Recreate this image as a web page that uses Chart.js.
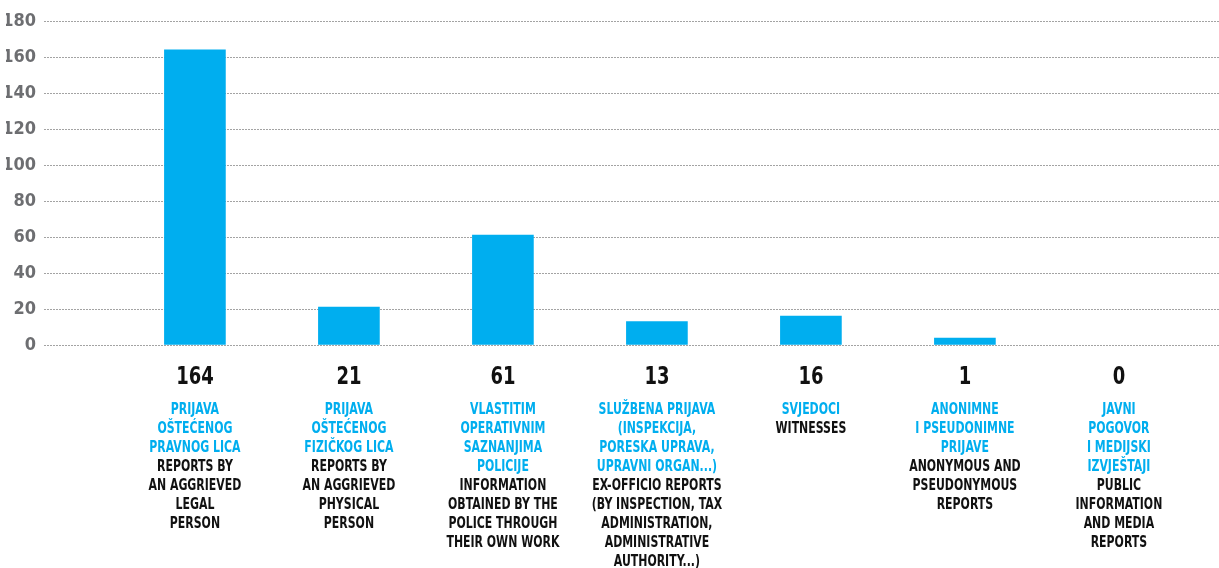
<!DOCTYPE html>
<html>
<head>
<meta charset="utf-8">
<script src="https://cdn.jsdelivr.net/npm/chart.js@4"></script>
<style>
  html, body { margin: 0; padding: 0; background: #fff; }
  #wrap { width: 1219px; height: 568px; position: relative; }
</style>
</head>
<body>
<div id="wrap"><canvas id="reportsChart" width="1219" height="568"></canvas></div>
<script>
// number of reports by source
const values = [164, 21, 61, 13, 16, 1, 0];

const localNames = [
  ['PRIJAVA', 'OŠTEĆENOG', 'PRAVNOG LICA'],
  ['PRIJAVA', 'OŠTEĆENOG', 'FIZIČKOG LICA'],
  ['VLASTITIM', 'OPERATIVNIM', 'SAZNANJIMA', 'POLICIJE'],
  ['SLUŽBENA PRIJAVA', '(INSPEKCIJA,', 'PORESKA UPRAVA,', 'UPRAVNI ORGAN...)'],
  ['SVJEDOCI'],
  ['ANONIMNE', 'I PSEUDONIMNE', 'PRIJAVE'],
  ['JAVNI', 'POGOVOR', 'I MEDIJSKI', 'IZVJEŠTAJI']
];

const englishNames = [
  ['REPORTS BY', 'AN AGGRIEVED', 'LEGAL', 'PERSON'],
  ['REPORTS BY', 'AN AGGRIEVED', 'PHYSICAL', 'PERSON'],
  ['INFORMATION', 'OBTAINED BY THE', 'POLICE THROUGH', 'THEIR OWN WORK'],
  ['EX-OFFICIO REPORTS', '(BY INSPECTION, TAX', 'ADMINISTRATION,', 'ADMINISTRATIVE', 'AUTHORITY...)'],
  ['WITNESSES'],
  ['ANONYMOUS AND', 'PSEUDONYMOUS', 'REPORTS'],
  ['PUBLIC', 'INFORMATION', 'AND MEDIA', 'REPORTS']
];

const yTicks = [0, 20, 40, 60, 80, 100, 120, 140, 160, 180];

const BLUE = '#00aeef';
const FONT = '"DejaVu Sans Condensed", "Liberation Sans Narrow", "Noto Sans", sans-serif';

// squeeze text sideways so it reads like a narrow DIN face
function narrowText(ctx, text, x, y, sx) {
  ctx.save();
  ctx.translate(x, y);
  ctx.scale(sx, 1);
  ctx.fillText(text, 0, 0);
  ctx.restore();
}

// value + two-language caption under every bar
const captions = {
  id: 'captions',
  afterDraw(chart) {
    const ctx = chart.ctx;
    const xs = chart.scales.x;
    ctx.save();
    ctx.textAlign = 'center';
    ctx.textBaseline = 'middle';
    values.forEach((v, i) => {
      const x = xs.getPixelForValue(i);
      ctx.fillStyle = '#111';
      ctx.font = 'bold 25px ' + FONT;
      narrowText(ctx, String(v), x, 377, 0.8);
      ctx.font = 'bold 16px ' + FONT;
      let y = 410;
      ctx.fillStyle = BLUE;
      localNames[i].forEach(line => { narrowText(ctx, line, x, y, 0.76); y += 19; });
      ctx.fillStyle = '#111';
      englishNames[i].forEach(line => { narrowText(ctx, line, x, y, 0.76); y += 19; });
    });
    ctx.restore();
  }
};

new Chart(document.getElementById('reportsChart').getContext('2d'), {
  type: 'bar',
  data: {
    datasets: [{
      data: values.map((v, i) => ({ x: i, y: v || null })),
      backgroundColor: BLUE,
      barThickness: 61,
      minBarLength: 7
    }]
  },
  options: {
    responsive: false,
    animation: false,
    layout: { padding: { top: 21, bottom: 223, left: 6, right: 0 } },
    plugins: { legend: { display: false }, tooltip: { enabled: false } },
    scales: {
      x: {
        type: 'linear',
        display: false,
        offset: false,
        min: -0.98,
        max: 6.65
      },
      y: {
        min: 0,
        max: 180,
        afterFit(scale) { scale.width = 38; },
        afterBuildTicks(scale) { scale.ticks = yTicks.map(v => ({ value: v })); },
        border: { display: false, dash: [2, 1] },
        grid: {
          color: '#a3a3a3',
          lineWidth: 1,
          drawTicks: false
        },
        ticks: {
          padding: 8,
          color: '#6d6e71',
          font: { family: FONT, size: 18, weight: 'bold' }
        }
      }
    }
  },
  plugins: [captions]
});
</script>
</body>
</html>
